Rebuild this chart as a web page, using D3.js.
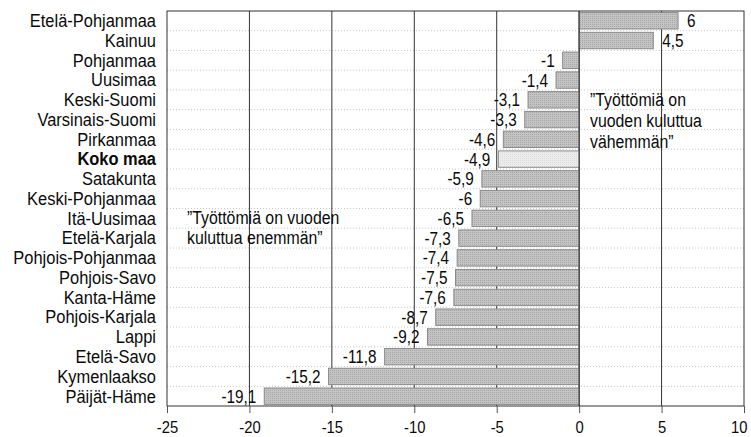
<!DOCTYPE html>
<html>
<head>
<meta charset="utf-8">
<script src="https://cdn.jsdelivr.net/npm/d3@7/dist/d3.min.js"></script>
<style>
  html, body { margin: 0; padding: 0; background: #fff; }
  svg { display: block; }
  text { font-family: "Liberation Sans", Arial, sans-serif; fill: #0a0a0a; }
</style>
</head>
<body>
<svg id="chart" width="751" height="437"></svg>
<script>
const categories = ["Etelä-Pohjanmaa","Kainuu","Pohjanmaa","Uusimaa","Keski-Suomi","Varsinais-Suomi","Pirkanmaa","Koko maa","Satakunta","Keski-Pohjanmaa","Itä-Uusimaa","Etelä-Karjala","Pohjois-Pohjanmaa","Pohjois-Savo","Kanta-Häme","Pohjois-Karjala","Lappi","Etelä-Savo","Kymenlaakso","Päijät-Häme"];
const values = [6, 4.5, -1, -1.4, -3.1, -3.3, -4.6, -4.9, -5.9, -6, -6.5, -7.3, -7.4, -7.5, -7.6, -8.7, -9.2, -11.8, -15.2, -19.1];
const highlight = ["Koko maa"];
const xTicks = [-25, -20, -15, -10, -5, 0, 5, 10];
const noteLeft = ["”Työttömiä on vuoden", "kuluttua enemmän”"];
const noteRight = ["”Työttömiä on", "vuoden kuluttua", "vähemmän”"];

const svg = d3.select("#chart");
const mLeft = 167, mRight = 744, mTop = 11, mBottom = 406;

const x = d3.scaleLinear().domain([-25, 10]).range([mLeft, mRight]);
const y = d3.scaleBand().domain(categories).range([mTop, mBottom]).paddingInner(0.17).paddingOuter(0.08);

// condensed look: squeeze text horizontally
function condense(sel, f) {
  sel.each(function () {
    const w = this.getComputedTextLength();
    d3.select(this).attr("textLength", w * f).attr("lengthAdjust", "spacingAndGlyphs");
  });
}

const defs = svg.append("defs");
const pat = defs.append("pattern").attr("id", "stip").attr("width", 2).attr("height", 2).attr("patternUnits", "userSpaceOnUse");
pat.append("rect").attr("width", 2).attr("height", 2).attr("fill", "#c4c4c4");
pat.append("rect").attr("width", 1).attr("height", 1).attr("fill", "#a6a6a6");
const pat2 = defs.append("pattern").attr("id", "stip2").attr("width", 2).attr("height", 2).attr("patternUnits", "userSpaceOnUse");
pat2.append("rect").attr("width", 2).attr("height", 2).attr("fill", "#ececec");
pat2.append("rect").attr("width", 1).attr("height", 1).attr("fill", "#dcdcdc");

const step = y.step();
svg.append("g").selectAll("line").data(categories.slice(1)).join("line")
  .attr("x1", mLeft).attr("x2", mRight)
  .attr("y1", d => y(d) - (step - y.bandwidth()) / 2)
  .attr("y2", d => y(d) - (step - y.bandwidth()) / 2)
  .attr("stroke", "#c8c8c8").attr("stroke-width", 1).attr("stroke-dasharray", "1,2");

svg.append("g").selectAll("line").data(xTicks.slice(1, -1)).join("line")
  .attr("x1", d => x(d)).attr("x2", d => x(d))
  .attr("y1", mTop).attr("y2", mBottom)
  .attr("stroke", "#333").attr("stroke-width", 1);

svg.append("rect").attr("x", mLeft).attr("y", mTop).attr("width", mRight - mLeft).attr("height", mBottom - mTop)
  .attr("fill", "none").attr("stroke", "#333").attr("stroke-width", 1);

svg.append("g").selectAll("rect").data(categories).join("rect")
  .attr("x", (d, i) => x(Math.min(0, values[i])))
  .attr("y", d => y(d))
  .attr("width", (d, i) => Math.abs(x(values[i]) - x(0)))
  .attr("height", y.bandwidth())
  .attr("fill", d => highlight.includes(d) ? "url(#stip2)" : "url(#stip)")
  .attr("stroke", "#8a8a8a").attr("stroke-width", 1);

svg.append("line").attr("x1", x(0)).attr("x2", x(0)).attr("y1", mTop).attr("y2", mBottom)
  .attr("stroke", "#333").attr("stroke-width", 1);

const fmt = v => String(v).replace(".", ",");
svg.append("g").selectAll("text").data(categories).join("text")
  .attr("x", (d, i) => values[i] >= 0 ? x(values[i]) + 9 : x(values[i]) - 8)
  .attr("y", d => y(d) + y.bandwidth() / 2)
  .attr("dy", "0.36em")
  .attr("text-anchor", (d, i) => values[i] >= 0 ? "start" : "end")
  .attr("font-size", 18)
  .text((d, i) => fmt(values[i]))
  .call(condense, 0.85);

svg.append("g").selectAll("text").data(categories).join("text")
  .attr("x", 156)
  .attr("y", d => y(d) + y.bandwidth() / 2)
  .attr("dy", "0.36em")
  .attr("text-anchor", "end")
  .attr("font-size", 17.5)
  .attr("font-weight", d => highlight.includes(d) ? "bold" : "normal")
  .text(d => d)
  .call(condense, 0.94);

const axis = d3.axisBottom(x).tickValues(xTicks).tickSize(7).tickFormat(d => d);
const ax = svg.append("g").attr("transform", `translate(0,${mBottom})`).call(axis);
ax.select(".domain").remove();
ax.selectAll(".tick line").attr("stroke", "#555");
ax.selectAll(".tick text").attr("font-size", 17).attr("font-family", null).attr("fill", "#0a0a0a")
  .attr("y", 26.5).attr("dy", 0)
  .call(condense, 0.87);
// keep the last label inside the picture
ax.selectAll(".tick").filter(d => d === xTicks[xTicks.length - 1]).select("text")
  .attr("text-anchor", "end").attr("x", 747 - x(xTicks[xTicks.length - 1]));

svg.append("text").attr("x", 187).attr("y", y(categories[10]) + y.bandwidth() / 2 + 6)
  .attr("font-size", 18)
  .selectAll("tspan").data(noteLeft).join("tspan")
  .attr("x", 187).attr("dy", (d, i) => i ? 20 : 0).text(d => d)
  .call(condense, 0.88);

svg.append("text").attr("x", 590).attr("y", y(categories[4]) + y.bandwidth() / 2 + 6)
  .attr("font-size", 18)
  .selectAll("tspan").data(noteRight).join("tspan")
  .attr("x", 590).attr("dy", (d, i) => i ? 21 : 0).text(d => d)
  .call(condense, 0.88);
</script>
</body>
</html>
